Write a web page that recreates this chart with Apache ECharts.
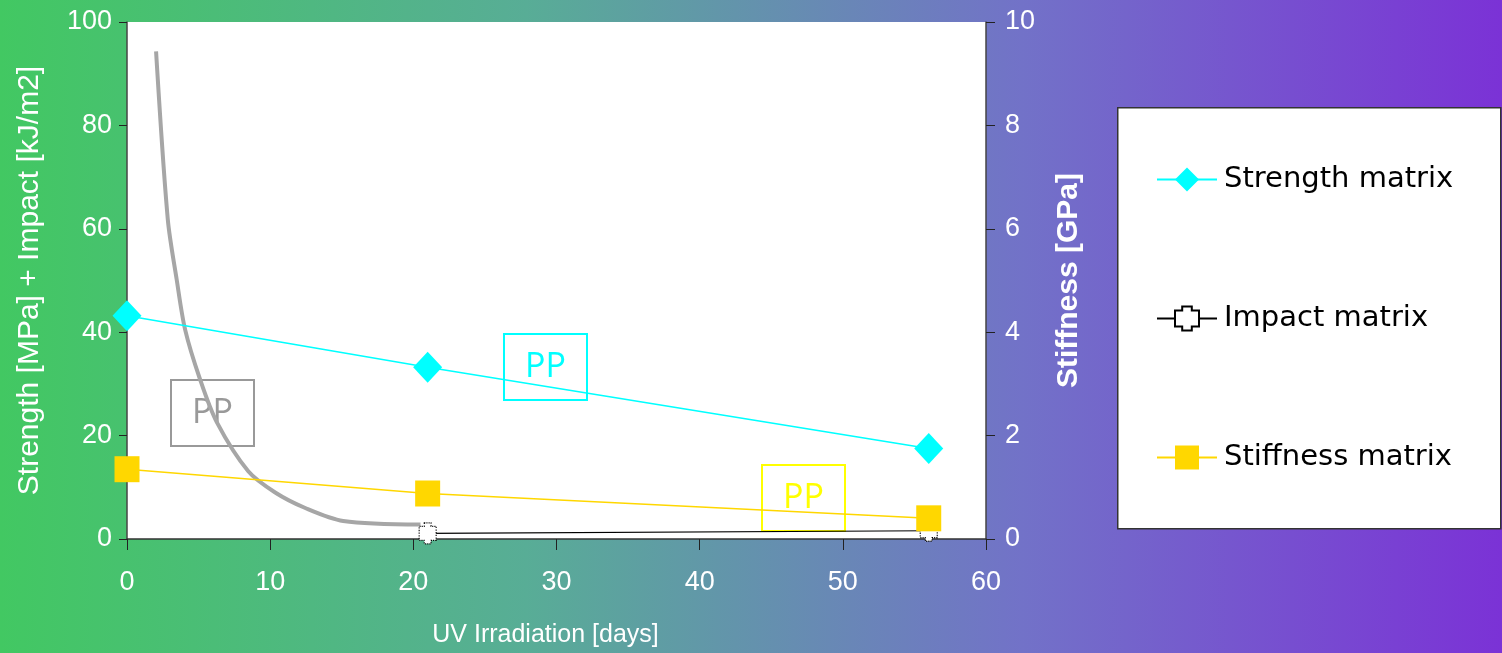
<!DOCTYPE html>
<html>
<head>
<meta charset="utf-8">
<script src="https://cdn.jsdelivr.net/npm/echarts@6/dist/echarts.min.js"></script>
<style>
html,body{margin:0;padding:0;}
#c{width:1502px;height:653px;background:linear-gradient(90deg,#42c862 0%,#58ad96 35%,#7272c8 68%,#7b32d6 100%);}
</style>
</head>
<body>
<div id="c"></div>
<script>
// Data
const strengthMatrix = [[0, 43.2], [21, 33.2], [56, 17.5]];      // MPa, left axis
const impactMatrix   = [[21, 1.1], [56, 1.6]];                    // kJ/m2, left axis
const stiffnessMatrix = [[0, 1.35], [21, 0.88], [56, 0.4]];       // GPa, right axis
const impactPP = [[2.03, 94.3], [2.85, 61.8], [3.47, 50.2], [4.06, 40.5], [5.1, 30.9],
                  [6.27, 22.6], [8.47, 13.1], [10.35, 9.0], [12.45, 6.0], [15.1, 3.5], [20.5, 2.8]];
const seriesNames = ['Strength matrix', 'Impact matrix', 'Stiffness matrix'];
const xTitle = 'UV Irradiation [days]';
const yLeftTitle = 'Strength [MPa] + Impact [kJ/m2]';
const yRightTitle = 'Stiffness [GPa]';
const ppLabel = 'PP';

const chart = echarts.init(document.getElementById('c'), null, {renderer: 'canvas'});
const axisFont = {color: '#ffffff', fontSize: 27, fontFamily: 'Liberation Sans, Arial, sans-serif'};
const impactSymbol = 'path://M3,0 L7,0 L7,2 L10,2 L10,10 L7,10 L7,12 L3,12 L3,10 L0,10 L0,2 L3,2 Z';

function ppBox(x, y, color) {
  return {
    type: 'group', left: x, top: y, z: 50,
    children: [
      {type: 'rect', shape: {x: 0, y: 0, width: 83, height: 66},
       style: {fill: 'rgba(0,0,0,0)', stroke: color, lineWidth: 2}},
      {type: 'text', x: 41.5, y: 33,
       style: {text: ppLabel, fill: color, font: '34px "Open Sans", sans-serif', align: 'center', verticalAlign: 'middle'}}
    ]
  };
}

chart.setOption({
  backgroundColor: 'transparent',
  animation: false,
  grid: {left: 127, right: 516, top: 22, bottom: 113, show: true, backgroundColor: '#ffffff', borderWidth: 0},
  legend: {
    orient: 'vertical', left: 1151, top: 160, itemWidth: 60, itemHeight: 30, itemGap: 110,
    data: seriesNames,
    textStyle: {color: '#000', fontSize: 29, fontFamily: 'DejaVu Sans, sans-serif', padding: [0, 0, 0, 2]},
    z: 20
  },
  xAxis: {
    type: 'value', min: 0, max: 60, interval: 10,
    name: xTitle, nameLocation: 'middle', nameGap: 84,
    nameTextStyle: {color: '#fff', fontSize: 25, fontFamily: 'Liberation Sans, Arial, sans-serif', padding: [0, 22, 0, 0]},
    axisLine: {show: true, onZero: false, lineStyle: {color: '#333', width: 1.5}},
    axisTick: {show: true, inside: false, length: 11, lineStyle: {color: '#222'}},
    axisLabel: Object.assign({margin: 30}, axisFont),
    splitLine: {show: false}
  },
  yAxis: [{
    type: 'value', min: 0, max: 100, interval: 20, position: 'left',
    name: yLeftTitle, nameLocation: 'middle', nameGap: 82, nameRotate: 90,
    nameTextStyle: {color: '#fff', fontSize: 30, fontFamily: 'Liberation Sans, Arial, sans-serif'},
    axisLine: {show: true, lineStyle: {color: '#444', width: 1.5}},
    axisTick: {show: true, inside: false, length: 8, lineStyle: {color: '#222'}},
    axisLabel: Object.assign({margin: 15}, axisFont),
    splitLine: {show: false}
  }, {
    type: 'value', min: 0, max: 10, interval: 2, position: 'right',
    name: yRightTitle, nameLocation: 'middle', nameGap: 68, nameRotate: 90,
    nameTextStyle: {color: '#fff', fontSize: 30, fontWeight: 'bold', fontFamily: 'Liberation Sans, Arial, sans-serif'},
    axisLine: {show: true, lineStyle: {color: '#444', width: 1.5}},
    axisTick: {show: true, inside: false, length: 9, lineStyle: {color: '#222'}},
    axisLabel: Object.assign({margin: 19}, axisFont),
    splitLine: {show: false}
  }],
  series: [
    {
      name: 'Impact PP', type: 'line', yAxisIndex: 0, data: impactPP, smooth: 0.3,
      showSymbol: false, symbol: 'none',
      lineStyle: {color: '#a6a6a6', width: 4}, z: 2
    },
    {
      name: seriesNames[0], type: 'line', yAxisIndex: 0, data: strengthMatrix,
      symbol: 'diamond', symbolSize: [29, 31],
      itemStyle: {color: '#00ffff'}, lineStyle: {color: '#00ffff', width: 1.5}, z: 3
    },
    {
      name: seriesNames[1], type: 'line', yAxisIndex: 0, data: impactMatrix,
      symbol: impactSymbol, symbolSize: [17, 21],
      itemStyle: {color: '#ffffff', borderColor: '#000', borderWidth: 1.2, borderType: 'dotted'},
      lineStyle: {color: '#000', width: 1.2}, z: 4
    },
    {
      name: seriesNames[2], type: 'line', yAxisIndex: 1, data: stiffnessMatrix,
      symbol: 'rect', symbolSize: [25, 26],
      itemStyle: {color: '#ffd700'}, lineStyle: {color: '#ffd700', width: 1.5}, z: 5
    }
  ],
  graphic: [
    {type: 'rect', left: 1117, top: 107, z: 0, shape: {width: 383, height: 421},
     style: {fill: '#ffffff', stroke: '#333', lineWidth: 1.5}},
    ppBox(170, 379, '#999999'),
    ppBox(503, 333, '#00ffff'),
    ppBox(761, 464, '#ffff00')
  ]
});
</script>
</body>
</html>
